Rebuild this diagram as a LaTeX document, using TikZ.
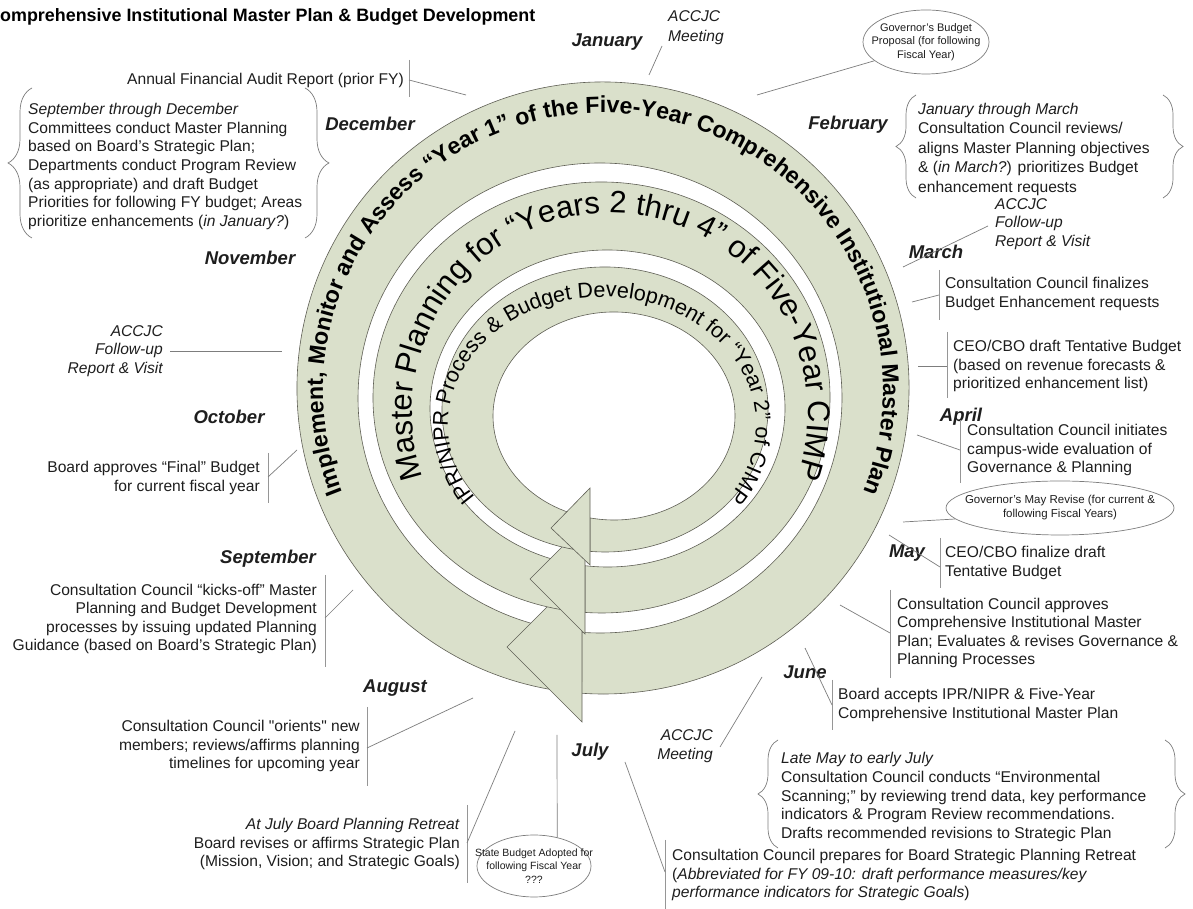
\documentclass[tikz,border=0pt]{standalone}
\usepackage{fontspec}
\setmainfont{Liberation Sans}
\setmonofont{Liberation Sans}
\usetikzlibrary{shapes.geometric,decorations.text,decorations.pathreplacing}
\definecolor{bandfill}{RGB}{218,224,203}
\definecolor{bandline}{RGB}{95,95,85}
\definecolor{txt}{RGB}{30,30,30}
\definecolor{conncol}{RGB}{125,125,125}
\definecolor{barcol}{RGB}{150,150,150}
\newcommand{\sq}{{\ttfamily"}}
\begin{document}
\begin{tikzpicture}[x=1pt,y=1pt,
  ev/.style={font=\fontsize{15.6}{18.6}\selectfont, inner sep=0pt, text=txt},
  evl/.style={ev, align=left, anchor=west},
  evr/.style={ev, align=right, anchor=east},
  month/.style={font=\fontsize{18.5}{20}\selectfont\bfseries\itshape, inner sep=0pt, text=txt},
  small/.style={font=\fontsize{11}{13.5}\selectfont, inner sep=0pt, text=txt, align=center},
  cline/.style={draw=conncol, line width=0.7pt},
  vbar/.style={draw=barcol, line width=0.8pt},
  bandstyle/.style={fill=bandfill, draw=bandline, line width=0.6pt},
  bracestyle/.style={draw=conncol, line width=0.7pt, decorate, decoration={brace, amplitude=#1}},
  oval/.style={ellipse, draw=conncol, line width=0.7pt, inner sep=0pt},
]
\useasboundingbox (0,0) rectangle (1193,909);
\fill[white] (0,0) rectangle (1193,909);

% ---- rings ----
\path[bandstyle] ([shift={(603,521)}]261:306) arc[start angle=261,end angle=-94,radius=306]
  -- ([shift={(600,511)}]-94.3:242 and 235) arc[start angle=-94.3,end angle=259.3,x radius=242,y radius=235] -- cycle;
\path[bandstyle] (507,262) -- (582,337) -- (582,187) -- cycle;
\path[bandstyle] ([shift={(601.5,511.5)}]260.8:228.5 and 215.5) arc[start angle=260.8,end angle=-94.1,x radius=228.5,y radius=215.5]
  -- ([shift={(607.5,500.5)}]-97.3:177.5 and 158.5) arc[start angle=-97.3,end angle=256.1,x radius=177.5,y radius=158.5] -- cycle;
\path[bandstyle] (530,330) -- (585,385) -- (585,275) -- cycle;
\path[bandstyle] ([shift={(605,499.5)}]259.4:163 and 142.5) arc[start angle=259.4,end angle=-95.3,x radius=163,y radius=142.5]
  -- ([shift={(614,493)}]-101.4:121 and 104) arc[start angle=-101.4,end angle=251.2,x radius=121,y radius=104] -- cycle;
\path[bandstyle] (551,381) -- (590,421) -- (590,344) -- cycle;

\path[decorate, decoration={text along path, text align=center,
  text={|\fontsize{23.2}{23.2}\selectfont\bfseries|Implement, Monitor and Assess “Year 1” of the Five-Year Comprehensive Institutional Master Plan}}]
  ([shift={(603,519)}]215:280 and 277) arc[start angle=215,end angle=-35,x radius=280,y radius=277];
\path[decorate, decoration={text along path, text align=center,
  text={|\fontsize{31}{31}\selectfont|Master Planning for “Years 2 thru 4” of Five-Year CIMP}}]
  ([shift={(610,497)}]225:198 and 199) arc[start angle=225,end angle=-45,x radius=198,y radius=199];
\path[decorate, decoration={text along path, text align=center,
  text={|\fontsize{21.5}{21.5}\selectfont|IPR/NIPR Process {\&} Budget Development for “Year 2” of CIMP}}]
  ([shift={(602,484)}]235:154 and 128) arc[start angle=235,end angle=-55,x radius=154,y radius=128];

% ---- title ----
\node[font=\fontsize{17.9}{20}\selectfont\bfseries, inner sep=0pt, anchor=west, text=black] (title) at (0,892) {omprehensive Institutional Master Plan \& Budget Development};

% ---- months ----
\node[month] (jan) at (607,867) {January};
\node[month] (dec) at (370,785) {December};
\node[month] (feb) at (848,784) {February};
\node[month] (nov) at (250,651) {November};
\node[month] (mar) at (936,657) {March};
\node[month] (oct) at (229,492) {October};
\node[month] (apr) at (961,492) {April};
\node[month] (sep) at (268,350) {September};
\node[month] (may) at (907,356) {May};
\node[month] (aug) at (395,221) {August};
\node[month] (jun) at (805,237) {June};
\node[month] (jul) at (590,157) {July};

% ---- annual audit ----
\node[evr] (annual) at (404,829) {Annual Financial Audit Report (prior FY)};
\coordinate (annT) at (409,849); \coordinate (annB) at (409,812);
\coordinate (annM) at (409,829); \coordinate (annR) at (466,814);
\draw[vbar] (annT) -- (annB);
\draw[cline] (annM) -- (annR);

% ---- ACCJC top ----
\node[ev, align=left, anchor=west, font=\fontsize{15.6}{20}\selectfont\itshape] (acc1) at (668,881) {ACCJC\\Meeting};
\coordinate (acc1a) at (662,863); \coordinate (acc1b) at (649,834);
\draw[cline] (acc1a) -- (acc1b);

% ---- Governor's budget ----
\node[oval, minimum width=126pt, minimum height=64pt] (govb) at (926,867) {};
\node[small] (govbt) at (govb.center) {Governor's Budget\\Proposal (for following\\Fiscal Year)};
\coordinate (govbR) at (757,814);
\draw[cline] (govb.200) -- (govbR);

% ---- Sept-Dec ----
\node[ev, align=left, anchor=west] (sepdec) at (28,742.5) {\textit{September through December}\\Committees conduct Master Planning\\based on Board's Strategic Plan;\\Departments conduct Program Review\\(as appropriate) and draft Budget\\Priorities for following FY budget; Areas\\prioritize enhancements (\textit{in January?})};
\coordinate (sdL1) at (32,671); \coordinate (sdL2) at (32,821);
\coordinate (sdR1) at (305,821); \coordinate (sdR2) at (305,671);
\draw[bracestyle=24pt] (sdL1) -- (sdL2);
\draw[bracestyle=24pt] (sdR1) -- (sdR2);

% ---- Jan-Mar ----
\node[ev, align=left, anchor=west, font=\fontsize{15.6}{19.5}\selectfont] (febblk) at (918,760) {\textit{January through March}\\Consultation Council reviews/\\aligns Master Planning objectives\\\& (\textit{in March?}) prioritizes Budget\\enhancement requests};
\coordinate (fbL1) at (916,711); \coordinate (fbL2) at (916,814);
\coordinate (fbR1) at (1163,814); \coordinate (fbR2) at (1163,711);
\draw[bracestyle=20pt] (fbL1) -- (fbL2);
\draw[bracestyle=20pt] (fbR1) -- (fbR2);

% ---- ACCJC right ----
\node[ev, align=left, anchor=west, font=\fontsize{15.6}{18.6}\selectfont\itshape] (acc2) at (995,685) {ACCJC\\Follow-up\\Report \& Visit};
\coordinate (acc2a) at (988,683); \coordinate (acc2b) at (903,642);
\draw[cline] (acc2a) -- (acc2b);

% ---- March ----
\node[evl] (marblk) at (945,615) {Consultation Council finalizes\\Budget Enhancement requests};
\coordinate (marT) at (939,639); \coordinate (marB) at (939,589);
\coordinate (marM) at (939,614); \coordinate (marR) at (912,607);
\draw[vbar] (marT) -- (marB); \draw[cline] (marM) -- (marR);

% ---- CEO draft ----
\node[evl] (ceoblk) at (953,543) {CEO/CBO draft Tentative Budget\\(based on revenue forecasts \&\\prioritized enhancement list)};
\coordinate (ceoT) at (947,577); \coordinate (ceoB) at (947,511);
\coordinate (ceoM) at (947,543); \coordinate (ceoR) at (918,543);
\draw[vbar] (ceoT) -- (ceoB); \draw[cline] (ceoM) -- (ceoR);

% ---- April ----
\node[evl] (aprblk) at (967,459) {Consultation Council initiates\\campus-wide evaluation of\\Governance \& Planning};
\coordinate (aprT) at (960,489); \coordinate (aprB) at (960,426);
\coordinate (aprM) at (960,459); \coordinate (aprR) at (917,474);
\draw[vbar] (aprT) -- (aprB); \draw[cline] (aprM) -- (aprR);

% ---- Governor's May revise ----
\node[oval, minimum width=228pt, minimum height=54pt] (govm) at (1060,401) {};
\node[small, font=\fontsize{11.5}{14}\selectfont] (govmt) at (govm.center) {Governor's May Revise (for current \&\\following Fiscal Years)};
\coordinate (govmR) at (903,387);
\draw[cline] (govm.186) -- (govmR);

% ---- May ----
\node[evl] (mayblk) at (945,346) {CEO/CBO finalize draft\\Tentative Budget};
\coordinate (mayT) at (940,371); \coordinate (mayB) at (940,321);
\coordinate (mayM) at (940,342); \coordinate (mayR) at (889,374);
\draw[vbar] (mayT) -- (mayB); \draw[cline] (mayM) -- (mayR);

% ---- June approve ----
\node[evl] (junblk) at (897,276) {Consultation Council approves\\Comprehensive Institutional Master\\Plan; Evaluates \& revises Governance \&\\Planning Processes};
\coordinate (junT) at (890,319); \coordinate (junB) at (890,231);
\coordinate (junM) at (890,276); \coordinate (junR) at (840,304);
\draw[vbar] (junT) -- (junB); \draw[cline] (junM) -- (junR);

% ---- June accept ----
\node[evl] (accblk) at (838,204) {Board accepts IPR/NIPR \& Five-Year\\Comprehensive Institutional Master Plan};
\coordinate (accT) at (832,229); \coordinate (accB) at (832,179);
\coordinate (accM) at (832,204); \coordinate (accR) at (805,261);
\draw[vbar] (accT) -- (accB); \draw[cline] (accM) -- (accR);

% ---- ACCJC bottom ----
\node[ev, align=right, anchor=east, font=\fontsize{15.6}{18.6}\selectfont\itshape] (acc3) at (713,163) {ACCJC\\Meeting};
\coordinate (acc3a) at (720,162); \coordinate (acc3b) at (762,232);
\draw[cline] (acc3a) -- (acc3b);

% ---- Late May ----
\node[evl] (lateblk) at (781,112) {\textit{Late May to early July}\\Consultation Council conducts “Environmental\\Scanning;” by reviewing trend data, key performance\\indicators \& Program Review recommendations.\\Drafts recommended revisions to Strategic Plan};
\coordinate (lmL1) at (778,61); \coordinate (lmL2) at (778,169);
\coordinate (lmR1) at (1165,169); \coordinate (lmR2) at (1165,61);
\draw[bracestyle=20pt] (lmL1) -- (lmL2);
\draw[bracestyle=20pt] (lmR1) -- (lmR2);

% ---- July prepares ----
\node[evl] (julblk) at (672,34) {Consultation Council prepares for Board Strategic Planning Retreat\\(\textit{Abbreviated for FY 09-10: draft performance measures/key}\\\textit{performance indicators for Strategic Goals})};
\coordinate (julT) at (665,69); \coordinate (julB) at (665,0);
\coordinate (julM) at (665,37); \coordinate (julR) at (625,147);
\draw[vbar] (julT) -- (julB); \draw[cline] (julM) -- (julR);

% ---- State budget ----
\node[oval, minimum width=114pt, minimum height=62pt] (stb) at (534,43) {};
\node[small, font=\fontsize{10.5}{13.5}\selectfont] (stbt) at (stb.center) {State Budget Adopted for\\following Fiscal Year\\???};
\coordinate (stbR) at (557,174);
\draw[cline] (stbR) -- (stb.51);

% ---- August ----
\node[evr] (augblk) at (360,163) {Consultation Council \sq orients\sq{} new\\members; reviews/affirms planning\\timelines for upcoming year};
\coordinate (augT) at (367,202); \coordinate (augB) at (367,123);
\coordinate (augM) at (367,161); \coordinate (augR) at (473,211);
\draw[vbar] (augT) -- (augB); \draw[cline] (augM) -- (augR);

% ---- July retreat ----
\node[evr] (retblk) at (460,65) {\textit{At July Board Planning Retreat}\\Board revises or affirms Strategic Plan\\(Mission, Vision; and Strategic Goals)};
\coordinate (retT) at (467,104); \coordinate (retB) at (467,26);
\coordinate (retM) at (467,66); \coordinate (retR) at (515,178);
\draw[vbar] (retT) -- (retB); \draw[cline] (retM) -- (retR);

% ---- September ----
\node[evr] (sepblk) at (317,290) {Consultation Council “kicks-off” Master\\Planning and Budget Development\\processes by issuing updated Planning\\Guidance (based on Board's Strategic Plan)};
\coordinate (sepT) at (325,334); \coordinate (sepB) at (325,242);
\coordinate (sepM) at (325,291); \coordinate (sepR) at (353,319);
\draw[vbar] (sepT) -- (sepB); \draw[cline] (sepM) -- (sepR);

% ---- October ----
\node[evr] (octblk) at (260,431) {Board approves “Final” Budget\\for current fiscal year};
\coordinate (octT) at (268,456); \coordinate (octB) at (268,406);
\coordinate (octM) at (268,432); \coordinate (octR) at (297,459);
\draw[vbar] (octT) -- (octB); \draw[cline] (octM) -- (octR);

% ---- ACCJC left ----
\node[ev, align=right, anchor=east, font=\fontsize{15.6}{18.6}\selectfont\itshape] (acc4) at (163,558) {ACCJC\\Follow-up\\Report \& Visit};
\coordinate (acc4a) at (170,558); \coordinate (acc4b) at (282,558);
\draw[cline] (acc4a) -- (acc4b);
\end{tikzpicture}
\end{document}
